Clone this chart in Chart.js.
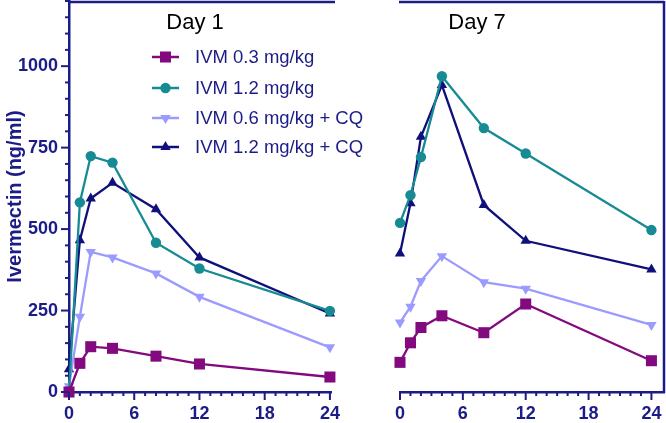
<!DOCTYPE html>
<html>
<head>
<meta charset="utf-8">
<script src="https://cdn.jsdelivr.net/npm/chart.js@4.4.0/dist/chart.umd.min.js"></script>
<style>
body { margin: 0; background: #fff; width: 666px; height: 423px; overflow: hidden; position: relative; }
#day1 { position: absolute; left: 0; top: 0; }
#day7 { position: absolute; left: 340px; top: 0; }
</style>
</head>
<body>
<canvas id="day1" width="420" height="423"></canvas>
<canvas id="day7" width="326" height="423"></canvas>
<script>
// sampling times (h)
var hours = [0, 1, 2, 4, 8, 12, 24];
var seriesNames = ['IVM 0.3 mg/kg', 'IVM 1.2 mg/kg', 'IVM 0.6 mg/kg + CQ', 'IVM 1.2 mg/kg + CQ'];

// Day 1 (ng/ml)
var day1Ivm03 = [0, 88, 139, 134, 110, 86, 46];
var day1Ivm12 = [0, 582, 724, 704, 458, 379, 249];
var day1Ivm06cq = [18, 231, 430, 413, 364, 292, 137];
var day1Ivm12cq = [70, 466, 594, 642, 561, 413, 241];

// Day 7 (ng/ml)
var day7Ivm03 = [91, 151, 198, 234, 182, 270, 96];
var day7Ivm12 = [519, 604, 721, 969, 810, 732, 497];
var day7Ivm06cq = [213, 262, 341, 417, 337, 317, 206];
var day7Ivm12cq = [425, 579, 783, 942, 574, 464, 376];

var xTicks = [0, 6, 12, 18, 24];
var yTicks = [0, 250, 500, 750, 1000];

var axisColor = '#1c1c87';
var colors = ['#820a7e', '#178b93', '#9b9bff', '#10107d'];
var styles = [
  { pointStyle: 'rect', rotation: 0, radius: 7.8 },
  { pointStyle: 'circle', rotation: 0, radius: 5.2 },
  { pointStyle: 'triangle', rotation: 180, radius: 6 },
  { pointStyle: 'triangle', rotation: 0, radius: 6 }
];
var fontFam = '"Liberation Sans", Arial, sans-serif';

function pts(vals) {
  return hours.map(function (h, i) { return { x: h, y: vals[i] }; });
}

function makeSets(lists) {
  return lists.map(function (vals, i) {
    return {
      label: seriesNames[i],
      data: pts(vals),
      borderColor: colors[i],
      backgroundColor: colors[i],
      borderWidth: 2.3,
      pointStyle: styles[i].pointStyle,
      pointRotation: styles[i].rotation,
      pointRadius: styles[i].radius,
      pointHoverRadius: styles[i].radius,
      pointBorderWidth: 0,
      tension: 0,
      clip: false
    };
  });
}

function line(ctx, x1, y1, x2, y2) {
  ctx.beginPath(); ctx.moveTo(x1, y1); ctx.lineTo(x2, y2); ctx.stroke();
}

// minor/major ticks, frame and day label
var framePlugin = {
  id: 'frame',
  afterDraw: function (chart) {
    var o = chart.options.plugins.frame;
    var ctx = chart.ctx, a = chart.chartArea;
    var xs = chart.scales.x, ys = chart.scales.y;
    ctx.save();
    ctx.strokeStyle = axisColor;
    ctx.lineWidth = 2;
    for (var h = 0; h <= 24; h++) {
      var px = xs.getPixelForValue(h);
      line(ctx, px, a.bottom, px, a.bottom + (h % 6 === 0 ? 8 : 4));
    }
    if (o.yTicks) {
      for (var v = 0; v <= 1200; v += 50) {
        var py = ys.getPixelForValue(v);
        line(ctx, a.left, py, a.left - (v % 250 === 0 ? 8 : 4), py);
      }
    }
    ctx.lineWidth = 2.5;
    line(ctx, a.left - 1, a.top + 1, a.right + o.topExtra, a.top + 1);
    if (o.rightBorder) line(ctx, a.right, a.top, a.right, a.bottom + 1);
    ctx.fillStyle = '#000';
    ctx.font = '22px ' + fontFam;
    ctx.textAlign = 'center';
    ctx.textBaseline = 'middle';
    ctx.fillText(o.title, o.titleX, 23);
    ctx.restore();
  }
};

var legendPlugin = {
  id: 'lineLegend',
  afterDraw: function (chart) {
    if (!chart.options.plugins.lineLegend.show) return;
    var ctx = chart.ctx;
    var rows = [57, 88, 118, 147];
    ctx.save();
    chart.data.datasets.forEach(function (ds, i) {
      var y = rows[i];
      ctx.strokeStyle = ds.borderColor;
      ctx.fillStyle = ds.borderColor;
      ctx.lineWidth = 2.5;
      line(ctx, 152, y, 179, y);
      Chart.helpers.drawPoint(ctx, {
        pointStyle: ds.pointStyle, rotation: ds.pointRotation,
        radius: ds.pointRadius, borderWidth: 0
      }, 165.5, y);
      ctx.fillStyle = axisColor;
      ctx.font = '18.5px ' + fontFam;
      ctx.textAlign = 'left';
      ctx.textBaseline = 'middle';
      ctx.fillText(ds.label, 195, y + 1);
    });
    ctx.restore();
  }
};

function xScale(max) {
  return {
    type: 'linear', min: 0, max: max,
    afterBuildTicks: function (s) { s.ticks = xTicks.map(function (v) { return { value: v }; }); },
    afterFit: function (s) { s.height = 31; s.paddingLeft = 0; s.paddingRight = 0; },
    grid: { display: true, drawOnChartArea: false, drawTicks: false },
    border: { display: true, color: axisColor, width: 2.5 },
    ticks: { color: axisColor, font: { family: fontFam, size: 18, weight: 'bold' }, padding: 11, maxRotation: 0, autoSkip: false }
  };
}

function yScale(show) {
  return {
    type: 'linear', min: 0, max: 1200, display: show,
    afterBuildTicks: function (s) { s.ticks = yTicks.map(function (v) { return { value: v }; }); },
    afterFit: function (s) {
      if (show) s.width = 69;
      s.paddingTop = 0; s.paddingBottom = 0;
    },
    grid: { display: true, drawOnChartArea: false, drawTicks: false },
    border: { display: true, color: axisColor, width: 2.5 },
    ticks: {
      color: axisColor, font: { family: fontFam, size: 18, weight: 'bold' }, padding: 11,
      callback: function (v) { return String(v); }
    },
    title: { display: true, text: 'Ivermectin (ng/ml)', color: axisColor, font: { family: fontFam, size: 20, weight: 'bold' }, padding: { top: 3, bottom: 0 } }
  };
}

new Chart(document.getElementById('day1'), {
  type: 'line',
  data: { datasets: makeSets([day1Ivm03, day1Ivm12, day1Ivm06cq, day1Ivm12cq]) },
  options: {
    responsive: false, animation: false,
    layout: { autoPadding: false, padding: { top: 1, right: 89, left: 0, bottom: 0 } },
    scales: { x: xScale(24.1), y: yScale(true) },
    plugins: {
      legend: { display: false }, tooltip: { enabled: false },
      frame: { yTicks: true, rightBorder: false, topExtra: 4, title: 'Day 1', titleX: 195 },
      lineLegend: { show: true }
    }
  },
  plugins: [framePlugin, legendPlugin]
});

new Chart(document.getElementById('day7'), {
  type: 'line',
  data: { datasets: makeSets([day7Ivm03, day7Ivm12, day7Ivm06cq, day7Ivm12cq]) },
  options: {
    responsive: false, animation: false,
    layout: { autoPadding: false, padding: { top: 1, right: 2, left: 60, bottom: 0 } },
    scales: { x: xScale(25.2), y: yScale(false) },
    plugins: {
      legend: { display: false }, tooltip: { enabled: false },
      frame: { yTicks: false, rightBorder: true, topExtra: 0, title: 'Day 7', titleX: 137 },
      lineLegend: { show: false }
    }
  },
  plugins: [framePlugin, legendPlugin]
});
</script>
</body>
</html>
